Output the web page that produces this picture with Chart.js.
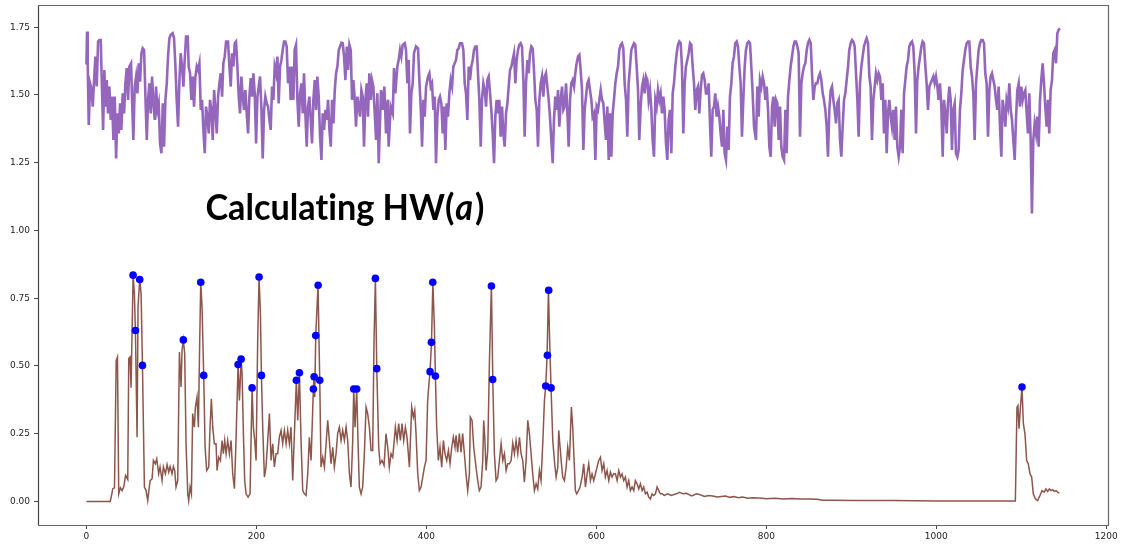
<!DOCTYPE html>
<html><head><meta charset="utf-8">
<script src="https://cdn.jsdelivr.net/npm/chart.js@4.4.0/dist/chart.umd.min.js"></script>
<style>html,body{margin:0;padding:0;background:#fff;}#wrap{width:1121px;height:544px;}</style>
</head><body><div id="wrap"><canvas id="c" width="1121" height="544"></canvas></div>
<script>
const xTicks = [0, 200, 400, 600, 800, 1000, 1200];
const yTicks = [0, 0.25, 0.5, 0.75, 1.0, 1.25, 1.5, 1.75];
const xRange = [-57, 1202];
const yRange = [-0.087, 1.832];
const titleParts = ['Calculat\u200Cing HW(', 'a', ')'];
const titleAnchor = {x: 140, y: 1.038};

const purpleTrace = [[0,1.612],[0.7,1.734],[1.5,1.617],[2.7,1.389],[4.3,1.543],[5.8,1.525],[7.4,1.457],[9.0,1.555],[10.5,1.642],[12.1,1.531],[13.7,1.697],[15.2,1.703],[16.8,1.703],[18.0,1.555],[19.6,1.371],[21.1,1.592],[22.3,1.457],[23.9,1.555],[25.4,1.432],[27.0,1.531],[28.6,1.408],[30.1,1.494],[31.7,1.334],[33.3,1.494],[34.9,1.266],[36.4,1.432],[38.0,1.358],[39.6,1.469],[41.1,1.371],[42.7,1.506],[44.3,1.432],[45.8,1.543],[47.4,1.599],[49.0,1.482],[50.5,1.605],[52.5,1.617],[53.7,1.482],[55.2,1.334],[56.8,1.531],[58.4,1.568],[60.0,1.506],[61.5,1.617],[63.1,1.549],[64.7,1.654],[66.2,1.672],[67.8,1.666],[69.4,1.494],[71.0,1.334],[72.5,1.482],[74.1,1.543],[75.6,1.432],[77.2,1.568],[78.8,1.469],[80.4,1.408],[81.9,1.531],[83.5,1.445],[85.0,1.469],[86.6,1.321],[88.2,1.285],[89.8,1.469],[91.3,1.309],[92.9,1.482],[94.5,1.543],[96.0,1.642],[97.6,1.709],[99.2,1.722],[101.5,1.728],[103.1,1.709],[104.7,1.605],[106.2,1.482],[107.8,1.383],[109.4,1.555],[110.9,1.654],[112.5,1.605],[114.1,1.531],[115.6,1.629],[117.2,1.716],[119.2,1.716],[120.3,1.605],[121.9,1.580],[123.5,1.482],[125.0,1.568],[126.6,1.457],[128.2,1.568],[129.8,1.605],[131.3,1.592],[132.9,1.617],[134.5,1.445],[136.0,1.482],[137.6,1.371],[139.2,1.285],[140.7,1.457],[142.3,1.420],[143.9,1.358],[145.4,1.482],[147.0,1.445],[148.6,1.334],[150.2,1.518],[151.8,1.445],[153.3,1.358],[154.9,1.494],[156.4,1.543],[158.0,1.580],[159.6,1.494],[161.1,1.617],[162.7,1.642],[164.3,1.697],[166.6,1.697],[168.2,1.605],[169.8,1.531],[171.3,1.654],[172.9,1.605],[174.5,1.691],[176.0,1.697],[177.6,1.605],[179.2,1.494],[180.7,1.432],[182.3,1.568],[183.9,1.494],[185.4,1.445],[187.0,1.518],[188.6,1.432],[190.2,1.358],[191.7,1.494],[193.3,1.562],[194.9,1.494],[196.4,1.580],[198.0,1.506],[199.6,1.321],[201.2,1.494],[202.7,1.531],[204.3,1.568],[205.9,1.445],[207.4,1.266],[209.0,1.445],[210.5,1.494],[212.1,1.469],[213.7,1.457],[215.3,1.408],[216.8,1.371],[218.4,1.531],[220.0,1.482],[221.5,1.605],[223.1,1.580],[224.7,1.642],[226.2,1.469],[227.8,1.605],[229.4,1.629],[230.9,1.666],[232.5,1.697],[234.1,1.697],[235.6,1.679],[237.2,1.543],[238.8,1.605],[240.3,1.482],[241.9,1.605],[243.5,1.482],[245.0,1.666],[246.6,1.685],[248.2,1.482],[249.8,1.383],[251.3,1.506],[252.9,1.543],[254.5,1.432],[256.0,1.580],[257.6,1.432],[259.2,1.309],[260.7,1.457],[262.3,1.494],[263.9,1.408],[265.4,1.321],[267.0,1.482],[268.6,1.555],[270.2,1.445],[271.7,1.568],[273.3,1.494],[274.9,1.346],[276.5,1.260],[278.0,1.432],[279.6,1.371],[281.2,1.445],[282.7,1.408],[284.3,1.482],[285.9,1.371],[287.5,1.309],[289.0,1.482],[290.6,1.395],[292.2,1.518],[293.7,1.580],[295.3,1.605],[296.9,1.666],[298.4,1.679],[300.0,1.693],[301.6,1.691],[303.1,1.642],[304.7,1.555],[306.3,1.679],[307.8,1.592],[309.4,1.685],[311.0,1.666],[312.5,1.482],[314.1,1.555],[315.7,1.482],[317.2,1.383],[318.8,1.494],[320.4,1.457],[321.9,1.420],[323.5,1.518],[325.1,1.494],[326.6,1.309],[328.2,1.482],[329.8,1.543],[331.3,1.420],[332.9,1.580],[334.5,1.482],[336.0,1.555],[337.6,1.531],[339.2,1.432],[340.8,1.334],[342.3,1.506],[343.9,1.248],
[346.6,1.518],[348.6,1.445],[350.5,1.531],[352.5,1.358],[354.5,1.482],[355.6,1.309],[358.0,1.457],[360.4,1.432],[361.9,1.599],[363.5,1.506],[365.8,1.605],[367.4,1.629],[369.0,1.666],[370.5,1.642],[372.1,1.685],[374.5,1.691],[376.0,1.666],[377.6,1.543],[379.2,1.629],[380.7,1.358],[382.3,1.506],[383.9,1.543],[385.4,1.654],[387.8,1.679],[390.2,1.672],[391.7,1.555],[393.3,1.457],[394.9,1.309],[396.4,1.482],[398.0,1.420],[399.6,1.531],[401.9,1.568],[403.5,1.580],[405.1,1.531],[406.6,1.543],[408.2,1.445],[409.8,1.494],[411.3,1.248],[412.9,1.420],[414.5,1.482],[416.0,1.494],[417.6,1.469],[419.2,1.358],[420.7,1.457],[422.3,1.297],[423.9,1.469],[425.4,1.420],[427.0,1.506],[428.6,1.555],[430.2,1.531],[431.7,1.605],[433.3,1.617],[434.9,1.629],[436.4,1.666],[438.0,1.672],[439.6,1.691],[441.9,1.691],[443.5,1.666],[445.1,1.543],[446.6,1.506],[448.2,1.408],[449.8,1.605],[451.3,1.555],[452.9,1.605],[454.5,1.629],[456.0,1.666],[457.6,1.679],[459.2,1.679],[460.7,1.580],[462.3,1.482],[463.9,1.309],[465.4,1.482],[467.0,1.543],[468.6,1.518],[470.2,1.457],[471.7,1.555],[473.3,1.568],[474.9,1.506],[476.4,1.445],[478.0,1.358],[479.6,1.248],[481.1,1.420],[482.7,1.482],[484.3,1.432],[485.8,1.482],[487.4,1.346],[489.0,1.457],[490.5,1.358],[492.1,1.309],[493.7,1.432],[495.3,1.469],[496.8,1.531],[498.4,1.592],[500.0,1.605],[501.5,1.629],[503.1,1.654],[504.7,1.543],[506.2,1.629],[507.8,1.666],[509.4,1.685],[510.9,1.691],[512.5,1.679],[514.1,1.555],[515.6,1.346],[517.2,1.543],[518.8,1.629],[520.3,1.580],[521.9,1.654],[523.5,1.679],[525.1,1.672],[526.6,1.592],[528.2,1.482],[529.8,1.445],[531.3,1.309],[532.9,1.482],[534.5,1.543],[536.0,1.568],[537.6,1.494],[539.2,1.568],[540.7,1.580],[542.3,1.531],[543.9,1.482],[545.4,1.420],[547.0,1.334],[548.6,1.248],[550.1,1.408],[551.7,1.494],[553.3,1.445],[554.9,1.518],[556.4,1.383],[558.0,1.482],[559.6,1.531],[561.1,1.445],[562.7,1.457],[564.3,1.543],[565.8,1.445],[567.4,1.309],[569.0,1.482],[570.5,1.543],[572.1,1.555],[573.7,1.531],[575.2,1.580],[576.8,1.617],[578.4,1.642],[580.0,1.648],[581.5,1.592],[583.1,1.518],[584.7,1.297],[586.2,1.445],[587.8,1.494],[589.4,1.543],[590.9,1.555],[592.5,1.518],[594.1,1.482],[595.6,1.420],[597.2,1.432],[598.8,1.260],[600.4,1.457],[601.9,1.445],[603.5,1.482],[605.1,1.518],[606.6,1.482],[608.2,1.469],[609.8,1.395],[611.3,1.334],[612.9,1.457],[614.5,1.260],[616.0,1.432],[617.6,1.272],[619.2,1.432],[620.7,1.482],[622.3,1.543],[623.9,1.580],[625.5,1.605],[627.0,1.666],[628.6,1.685],[630.2,1.691],[631.7,1.672],[633.3,1.543],[634.9,1.482],[636.4,1.346],[638.0,1.543],[639.6,1.605],[641.1,1.666],[642.7,1.679],[644.3,1.691],[645.8,1.685],[647.4,1.605],[649.0,1.518],[650.5,1.334],[652.1,1.457],[653.7,1.531],[655.2,1.555],[656.8,1.506],[658.4,1.568],[660.0,1.555],[661.5,1.482],[663.1,1.518],[664.7,1.445],[666.2,1.334],[667.8,1.272],[669.4,1.482],[670.9,1.457],[672.5,1.518],[674.1,1.482],[675.6,1.506],[677.2,1.432],[678.8,1.494],[680.3,1.445],[681.9,1.321],[683.5,1.260],[685.0,1.408],[686.6,1.445],[688.2,1.285],[689.8,1.506],[691.3,1.543],[692.9,1.605],[694.5,1.654],[696.0,1.685],[697.6,1.697],[699.2,1.691],[700.7,1.605],[702.3,1.358],[703.9,1.543],[705.4,1.605],[707.0,1.629],[708.6,1.654],[710.2,1.691],[711.7,1.685],[713.3,1.605],[714.9,1.543],[716.4,1.445],[718.0,1.518],[719.6,1.531],[721.1,1.432],[722.7,1.518],[724.3,1.574],[725.8,1.580],[727.4,1.555],[729.0,1.506],[730.5,1.506],[732.1,1.543],[733.7,1.395],[735.2,1.272],[736.8,1.445],[738.4,1.457],[739.9,1.506],[741.5,1.420],[743.1,1.457],[744.7,1.420],[746.2,1.358],[747.8,1.309],[749.4,1.445],[750.9,1.285],[752.5,1.260],[754.1,1.383],[755.6,1.297],[757.2,1.494],[758.8,1.543],[760.3,1.617],[761.9,1.642],[763.5,1.691],[765.1,1.697],[766.6,1.679],[768.2,1.605],[769.8,1.543],[771.3,1.346],[772.9,1.482],[774.5,1.605],[776.0,1.666],[777.6,1.691],[779.2,1.697],[780.8,1.691],[782.3,1.605],[783.9,1.506],[785.5,1.383],
[787.8,1.334],[789.4,1.531],[791.0,1.420],[792.5,1.555],[794.1,1.531],[795.7,1.568],[797.3,1.543],[798.8,1.482],[800.4,1.531],[802.0,1.445],[803.5,1.309],[805.1,1.272],[806.7,1.457],[808.2,1.494],[809.8,1.383],[811.4,1.482],[812.9,1.469],[814.5,1.334],[816.1,1.457],[817.6,1.309],[819.2,1.272],[820.8,1.260],[822.4,1.445],[823.9,1.285],[825.5,1.494],[827.1,1.555],[828.6,1.605],[830.2,1.642],[831.8,1.679],[833.3,1.697],[834.9,1.697],[836.5,1.679],[838.0,1.654],[839.6,1.346],[841.2,1.543],[842.7,1.580],[844.3,1.605],[845.9,1.617],[847.5,1.666],[849.0,1.691],[850.6,1.703],[852.2,1.691],[853.7,1.580],[855.3,1.482],[856.9,1.531],[858.4,1.543],[860.0,1.543],[861.6,1.568],[863.1,1.580],[864.7,1.555],[866.3,1.506],[867.8,1.482],[869.4,1.445],[871.0,1.383],[872.5,1.272],[874.1,1.445],[875.7,1.518],[877.3,1.531],[878.8,1.482],[880.4,1.445],[882.0,1.395],[883.5,1.469],[885.1,1.482],[886.7,1.334],[888.2,1.272],[889.8,1.383],[891.4,1.482],[892.9,1.506],[894.5,1.555],[896.1,1.605],[897.6,1.666],[899.2,1.691],[900.8,1.703],[902.4,1.697],[903.9,1.679],[905.5,1.580],[907.1,1.482],[908.6,1.346],[910.2,1.543],[911.8,1.605],[913.3,1.642],[914.9,1.679],[916.5,1.697],[918.0,1.709],[919.6,1.691],[921.2,1.568],[922.7,1.531],[924.3,1.334],[925.9,1.482],[927.5,1.531],[929.0,1.580],[930.6,1.555],[932.2,1.580],[933.7,1.568],[935.3,1.482],[936.9,1.543],[938.4,1.358],[940.0,1.482],[941.6,1.285],[943.1,1.432],[944.7,1.482],[946.3,1.420],[947.8,1.383],[949.4,1.445],[951.0,1.334],[952.5,1.457],[954.1,1.309],[955.7,1.272],[957.3,1.309],[958.8,1.445],[960.4,1.285],[962.0,1.506],[963.5,1.555],[965.1,1.605],[966.7,1.629],[968.2,1.679],[969.8,1.691],[971.4,1.697],[972.9,1.679],[974.5,1.580],[976.1,1.358],[977.6,1.555],[979.2,1.605],[980.8,1.642],[982.4,1.679],[983.9,1.697],[985.5,1.691],[987.1,1.605],[988.6,1.543],[990.2,1.445],[991.8,1.531],[993.3,1.543],[994.9,1.555],[996.5,1.568],[998.0,1.543],[999.6,1.568],[1001.2,1.531],[1002.7,1.482],[1004.3,1.543],[1005.9,1.457],[1007.5,1.272],[1009.0,1.482],[1010.6,1.432],[1012.2,1.358],[1013.7,1.469],[1015.3,1.531],[1016.9,1.482],[1018.4,1.297],[1020.0,1.445],[1021.6,1.469],[1023.1,1.285],[1024.7,1.272],[1026.3,1.297],[1027.8,1.445],[1029.4,1.506],[1031.0,1.592],[1032.5,1.629],[1034.1,1.666],[1035.7,1.691],[1037.3,1.697],[1038.8,1.697],[1040.4,1.605],[1042.0,1.568],[1043.5,1.506],[1045.1,1.334],[1046.7,1.543],[1048.2,1.605],[1049.8,1.666],[1051.4,1.691],[1052.9,1.703],[1054.5,1.703],[1056.1,1.691],[1057.6,1.580],[1059.2,1.543],[1060.8,1.346],[1062.4,1.518],[1063.9,1.568],[1065.5,1.580],[1067.1,1.555],[1068.6,1.531],[1070.2,1.482],[1071.8,1.445],[1073.3,1.531],[1074.9,1.383],[1076.5,1.272],[1078.0,1.482],[1079.6,1.445],[1081.2,1.383],[1082.7,1.482],[1084.3,1.457],[1085.9,1.543],[1087.5,1.445],[1089.0,1.408],[1090.6,1.334],[1092.2,1.260],[1093.7,1.408],[1095.3,1.518],[1096.9,1.543],[1098.4,1.457],[1100.0,1.531],[1101.6,1.482],[1103.1,1.506],[1104.7,1.518],[1106.3,1.432],[1107.8,1.358],[1109.4,1.506],[1111.0,1.334],[1112.5,1.063],[1114.1,1.334],[1115.7,1.395],[1117.3,1.358],[1118.8,1.420],[1120.4,1.309],[1122.0,1.482],[1123.5,1.555],[1125.1,1.617],[1126.7,1.543],[1128.2,1.457],[1129.8,1.383],[1131.4,1.482],[1132.9,1.358],[1134.5,1.518],[1136.1,1.555],[1137.6,1.654],[1139.2,1.666],[1140.8,1.617],[1142.4,1.728],[1143.9,1.740],[1145.5,1.746]];

const brownTrace = [[0,0],[28,0],[30,0.03],[31,0.047],[33,0.05],[35,0.52],[36.5,0.533],[38,0.028],[40,0.05],[42,0.04],[44,0.055],[46,0.096],[48.6,0.081],[49.8,0.527],[51.3,0.533],[52.5,0.42],[54.9,0.835],[56.4,0.767],[57.6,0.631],[59.6,0.237],[60.7,0.718],[62.7,0.819],[64.3,0.767],[65.9,0.502],[68.2,0.053],[70.2,0.04],[72.1,0.003],[74.9,0.077],[77.2,0.083],[78.8,0.151],[81.1,0.139],[82.7,0.157],[85,0.102],[86.6,0.127],[89,0.077],[90.5,0.127],[92.9,0.102],[94.9,0.136],[96.8,0.108],[98.4,0.129],[100.7,0.102],[102.3,0.129],[103.9,0.114],[105.4,0.053],[107.4,0.077],[109.4,0.551],[111.3,0.422],[112.5,0.558],[114,0.596],[115.6,0.545],[117.2,0.213],[119.2,0.028],[120.3,0.003],[121.9,0.053],[123.5,0.028],[125,0.324],[127,0.274],[128.2,0.348],[130.1,0.385],[131.7,0.274],[133.3,0.595],[134.5,0.809],[136,0.718],[138,0.465],[139.6,0.2],[141.5,0.114],[143.9,0.127],[145.4,0.274],[147,0.379],[148.6,0.274],[150.5,0.213],[152.5,0.213],[153.7,0.114],[155.6,0.163],[157.6,0.151],[159.6,0.225],[161.1,0.176],[162.7,0.225],[164.3,0.176],[166.2,0.225],[168.2,0.176],[170.2,0.225],[172.1,0.102],[174.1,0.047],[176,0.225],[178.4,0.505],[180,0.373],[182,0.525],[183.1,0.471],[184.7,0.25],[186.2,0.077],[187.8,0.028],[190.2,0.016],[192.5,0.028],[193.7,0.225],[194.9,0.419],[196.4,0.274],[198,0.225],[199.6,0.151],[201.5,0.595],[203.1,0.828],[204.7,0.693],[205.9,0.465],[207.4,0.274],[209.4,0.09],[211.3,0.127],[213.3,0.225],[215.3,0.324],[217.2,0.151],[219.2,0.213],[221.1,0.127],[223.1,0.176],[225,0.176],[227,0.237],[229,0.262],[230.9,0.213],[232.9,0.262],[234.9,0.213],[236.8,0.262],[238.8,0.213],[240.7,0.274],[242.7,0.077],[244.7,0.25],[247,0.447],[248.6,0.299],[250.6,0.475],[252.5,0.225],[254.5,0.04],[256.4,0.028],[258.4,0.022],[260.4,0.102],[262.3,0.237],[264.3,0.151],[267,0.415],[267.8,0.46],[268.6,0.385],[269.8,0.612],[272.5,0.798],[274.5,0.447],[276,0.127],[278,0.163],[280,0.127],[282,0.213],[283.9,0.299],[285.8,0.225],[287.8,0.139],[289.8,0.2],[291.7,0.127],[293.7,0.176],[295.6,0.25],[297.6,0.274],[299.6,0.225],[301.5,0.262],[303.5,0.225],[305.5,0.274],[307.4,0.225],[309.4,0.102],[311.3,0.053],[313.3,0.225],[314.5,0.415],[316,0.274],[318,0.415],[319.5,0.225],[321.1,0.053],[323.1,0.028],[325,0.053],[327,0.176],[329,0.348],[330.9,0.324],[332.9,0.274],[334.9,0.188],[336.8,0.188],[338.4,0.595],[340,0.823],[341.6,0.49],
[343.9,0.2],[345.5,0.139],[347.8,0.151],[350.2,0.133],[352.5,0.25],[354.5,0.2],[356.4,0.126],[358.4,0.176],[360.4,0.163],[363.5,0.274],[365.5,0.225],[367.4,0.287],[369.4,0.225],[371.3,0.287],[373.3,0.225],[375.3,0.274],[377.2,0.237],[380,0.126],[382.7,0.348],[384.7,0.311],[386.3,0.336],[387.8,0.25],[389.8,0.102],[391.7,0.04],[393.7,0.053],[395.7,0.09],[397.6,0.126],[399.6,0.151],[401.5,0.373],[402.7,0.422],[404.3,0.479],[406,0.587],[407.6,0.809],[409.4,0.644],[410.6,0.463],[412.1,0.274],[414.1,0.151],[416,0.2],[418,0.126],[420,0.225],[421.9,0.176],[423.9,0.151],[425.9,0.188],[427.8,0.139],[429.8,0.2],[431.7,0.237],[433.7,0.2],[434.9,0.244],[436.8,0.182],[438.8,0.25],[440.8,0.182],[442.7,0.25],[444.7,0.176],[446.6,0.102],[448.6,0.04],[450.6,0.102],[451.7,0.311],[453.7,0.299],[455.7,0.2],[458.4,0.126],[460.4,0.077],[462.3,0.04],[464.3,0.053],[466.3,0.151],[467.4,0.299],
[468.7,0.237],[470.2,0.114],[472.2,0.188],[474.2,0.52],[476.5,0.795],[478.1,0.449],[480,0.176],[482,0.077],[484,0.09],[485.9,0.151],[487.9,0.213],[489.9,0.151],[491.8,0.176],[493.8,0.114],[495.7,0.139],[497.7,0.139],[499.7,0.151],[501.6,0.215],[503.6,0.176],[505.5,0.225],[507.5,0.176],[509.5,0.237],[511.4,0.176],[513.4,0.151],[515.3,0.071],[517.3,0.151],[519.3,0.299],[521.2,0.25],[523.2,0.176],[525.1,0.102],[527.1,0.04],[529.1,0.065],[531,0.046],[533,0.114],[534.9,0.077],[536.9,0.213],[538.9,0.373],[540.4,0.426],[542,0.539],[543.6,0.779],[545.1,0.582],[546.7,0.417],[548.7,0.225],[550.6,0.151],[552.6,0.09],[554.6,0.126],[555.7,0.262],[557.3,0.2],[558.9,0.139],[560.4,0.09],[562.4,0.077],[564.4,0.126],[566.3,0.2],[568.3,0.151],[570.6,0.348],[572.2,0.274],[573.8,0.151],[575.3,0.04],[576.9,0.028],[578.9,0.04],[580.8,0.053],[583.2,0.09],[585.1,0.139],[587.1,0.053],[589.1,0.102],[591,0.139],[593,0.077],[594.9,0.102],[596.9,0.077],[598.9,0.102],[600.8,0.126],[602.8,0.151],[604.8,0.163],[606.7,0.114],[608.7,0.139],[610.6,0.09],[612.6,0.114],[614.6,0.077],[616.5,0.108],[618.5,0.09],[620.4,0.102],[622.4,0.102],[624.4,0.077],[626.3,0.114],[628.3,0.09],[630.2,0.102],[632.2,0.077],[634.2,0.09],[636.1,0.053],[638.1,0.077],[640,0.04],[642,0.053],[644,0.04],[645.9,0.077],[647.9,0.065],[649.9,0.046],[651.8,0.065],[653.8,0.04],[655.7,0.053],[657.7,0.028],[659.7,0.034],[661.6,0.016],[663.6,0.009],[665.5,0.028],[667.5,0.022],[669.5,0.028],[671.4,0.053],[673.4,0.04],[675.3,0.028],[677.3,0.028],[680,0.022],[684,0.028],[688,0.022],[694,0.028],[698,0.034],
[702,0.028],[706,0.03],[712,0.02],[718,0.028],[722,0.025],[727,0.018],[732,0.022],[737,0.02],[742,0.016],[747,0.018],[752,0.02],[757,0.015],[762,0.018],[767,0.014],[772,0.016],[778,0.012],[784,0.014],[790,0.013],[795,0.012],[800,0.01],[810,0.012],[820,0.009],[830,0.011],[840,0.009],[850,0.009],[860,0.008],[866,0.004],[880,0.004],[900,0.003],[950,0.003],[1000,0.002],[1050,0.002],[1093,0.002],[1094.9,0.348],[1096,0.354],[1097.3,0.268],[1099,0.35],[1100.8,0.422],[1102.4,0.287],[1104.3,0.25],[1106.3,0.151],[1108.2,0.139],[1110.2,0.102],[1112.2,0.09],[1114.1,0.028],[1116.5,0.01],[1119.2,0.003],[1122,0.022],[1124.3,0.04],[1127,0.034],[1129,0.046],[1131,0.037],[1133,0.046],[1135,0.04],[1137,0.043],[1138.8,0.037],[1140.8,0.04],[1142.7,0.034],[1144.7,0.031]];

const peakPoints = [[54.9,0.835],[57.6,0.631],[62.7,0.819],[65.9,0.502],[114,0.596],[134.5,0.809],[138,0.465],[178.4,0.505],[182,0.525],[194.9,0.419],[203.1,0.828],[205.9,0.465],[247,0.447],[250.6,0.475],[267,0.415],[267.9,0.46],[269.8,0.612],[272.6,0.798],[274.5,0.447],[314.5,0.415],[318,0.415],[340,0.823],[341.6,0.49],[404.3,0.479],[405.9,0.587],[407.5,0.809],[410.6,0.463],[476.5,0.795],[478,0.45],[540.4,0.426],[542.4,0.539],[543.9,0.779],[546.7,0.419],[1100.8,0.422]];

const toXY = arr => arr.map(p => ({x: p[0], y: p[1]}));

const framePlugin = {
  id: 'frame',
  afterDraw(chart) {
    const a = chart.chartArea, ctx = chart.ctx;
    const l = Math.round(a.left) + 0.5, t = Math.round(a.top) + 0.5;
    const r = Math.round(a.right) + 0.5, b = Math.round(a.bottom) + 0.5;
    ctx.save();
    ctx.lineWidth = 1.2;
    ctx.strokeStyle = '#666';
    ctx.beginPath(); ctx.moveTo(l, t); ctx.lineTo(r, t); ctx.lineTo(r, b); ctx.lineTo(l, b); ctx.stroke();
    ctx.strokeStyle = '#444';
    ctx.beginPath(); ctx.moveTo(l, t); ctx.lineTo(l, b); ctx.stroke();
    ctx.restore();
  }
};

const titlePlugin = {
  id: 'titleText',
  afterDatasetsDraw(chart) {
    const ctx = chart.ctx;
    const px = chart.scales.x.getPixelForValue(titleAnchor.x);
    const py = chart.scales.y.getPixelForValue(titleAnchor.y);
    const size = 37;
    const fB = 'bold ' + size + 'px Lato, "Open Sans", sans-serif';
    const fI = 'italic bold ' + size + 'px Lato, "Open Sans", sans-serif';
    ctx.save();
    ctx.font = fB; const w1 = ctx.measureText(titleParts[0]).width;
    ctx.font = fI; const w2 = ctx.measureText(titleParts[1]).width;
    ctx.font = fB; const w3 = ctx.measureText(titleParts[2]).width;
    const sx = 279 / (w1 + w2 + w3 + 3);
    ctx.translate(px, py);
    ctx.scale(sx, 1);
    ctx.fillStyle = '#000';
    ctx.textBaseline = 'alphabetic';
    ctx.textAlign = 'left';
    ctx.font = fB; ctx.fillText(titleParts[0], 0, 0);
    ctx.font = fI; ctx.fillText(titleParts[1], w1 + 1, 0);
    ctx.font = fB; ctx.fillText(titleParts[2], w1 + w2 + 3, 0);
    ctx.restore();
  }
};

const tickFont = {family: '"DejaVu Sans", sans-serif', size: 9};

new Chart(document.getElementById('c'), {
  type: 'scatter',
  data: {
    datasets: [
      {label: 'peaks', data: toXY(peakPoints), showLine: false, pointRadius: 3.8, pointHoverRadius: 3.8,
       backgroundColor: '#0000ff', borderColor: '#0000ff', borderWidth: 0, order: 0},
      {label: 'trace', data: toXY(brownTrace), showLine: true, borderColor: '#8c564b', borderWidth: 1.5,
       pointRadius: 0, tension: 0, fill: false, order: 1},
      {label: 'power', data: toXY(purpleTrace), showLine: true, borderColor: '#9467bd', borderWidth: 2.6,
       pointRadius: 0, tension: 0, fill: false, order: 2}
    ]
  },
  options: {
    responsive: false,
    animation: false,
    devicePixelRatio: 1,
    layout: {padding: {left: 0, right: 13, top: 5, bottom: 0}},
    plugins: {legend: {display: false}, tooltip: {enabled: false}, title: {display: false}},
    events: [],
    scales: {
      x: {
        type: 'linear', min: xRange[0], max: xRange[1],
        afterBuildTicks: s => { s.ticks = xTicks.map(v => ({value: v})); },
        afterFit: s => { s.height = 19; s.paddingLeft = 0; s.paddingRight = 0; },
        ticks: {font: tickFont, color: '#222', padding: 2, maxRotation: 0, autoSkip: false, callback: v => String(v)},
        grid: {drawOnChartArea: false, drawTicks: true, tickLength: 4, color: '#444', lineWidth: 1},
        border: {display: false}
      },
      y: {
        type: 'linear', min: yRange[0], max: yRange[1],
        afterBuildTicks: s => { s.ticks = yTicks.map(v => ({value: v})); },
        afterFit: s => { s.width = 38; s.paddingTop = 0; s.paddingBottom = 0; },
        ticks: {font: tickFont, color: '#222', padding: 4, autoSkip: false, callback: v => Number(v).toFixed(2)},
        grid: {drawOnChartArea: false, drawTicks: true, tickLength: 4, color: '#444', lineWidth: 1},
        border: {display: false}
      }
    }
  },
  plugins: [framePlugin, titlePlugin]
});
</script></body></html>
